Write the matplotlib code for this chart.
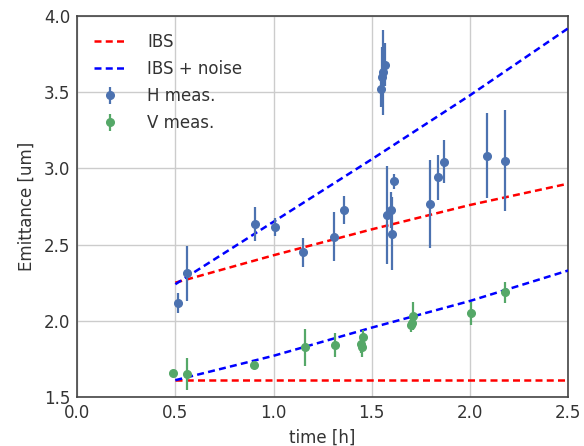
import matplotlib
matplotlib.use("Agg")
import matplotlib.pyplot as plt

# Model curves
model_t = [0.5, 1.0, 1.5, 2.0, 2.5]
ibs_h = [2.25, 2.43, 2.60, 2.76, 2.90]
ibs_noise_h = [2.24, 2.65, 3.06, 3.48, 3.92]
ibs_v = [1.61, 1.61, 1.61, 1.61, 1.61]
ibs_noise_v = [1.61, 1.77, 1.955, 2.13, 2.33]

# Horizontal measurements
h_t = [0.516, 0.562, 0.905, 1.005, 1.152, 1.307, 1.358, 1.548, 1.552, 1.556, 1.568,
       1.580, 1.597, 1.602, 1.611, 1.797, 1.838, 1.870, 2.086, 2.176]
h_emit = [2.115, 2.312, 2.635, 2.617, 2.449, 2.552, 2.727, 3.52, 3.60, 3.63, 3.68,
          2.694, 2.727, 2.570, 2.915, 2.766, 2.941, 3.044, 3.083, 3.051]
h_err = [0.066, 0.18, 0.11, 0.06, 0.094, 0.16, 0.09, 0.12, 0.20, 0.28, 0.14,
         0.32, 0.12, 0.24, 0.05, 0.29, 0.15, 0.14, 0.28, 0.33]

# Vertical measurements
v_t = [0.487, 0.562, 0.903, 1.161, 1.314, 1.444, 1.450, 1.455, 1.699, 1.704, 1.712, 2.005, 2.179]
v_emit = [1.655, 1.651, 1.710, 1.826, 1.841, 1.848, 1.830, 1.892, 1.974, 1.988, 2.031, 2.049, 2.187]
v_err = [0.01, 0.105, 0.01, 0.12, 0.08, 0.06, 0.07, 0.05, 0.05, 0.05, 0.09, 0.077, 0.07]

xticks = [0.0, 0.5, 1.0, 1.5, 2.0, 2.5]
yticks = [1.5, 2.0, 2.5, 3.0, 3.5, 4.0]

fig = plt.figure(figsize=(5.84, 4.46), dpi=100)
ax = fig.add_axes([0.132, 0.110, 0.841, 0.854])

blue_c = "#4c72b0"
green_c = "#55a868"
lw = 1.8
dash = (2.8, 1.7)
ax.plot(model_t, ibs_h, "--", color="red", lw=lw, dashes=dash, label="IBS", zorder=3)
ax.plot(model_t, ibs_noise_h, "--", color="blue", lw=lw, dashes=dash, label="IBS + noise", zorder=3)
ax.plot(model_t, ibs_v, "--", color="red", lw=lw, dashes=dash, zorder=3)
ax.plot(model_t, ibs_noise_v, "--", color="blue", lw=lw, dashes=dash, zorder=3)

ax.errorbar(h_t, h_emit, yerr=h_err, fmt="o", color=blue_c, ms=5.5, elinewidth=1.6,
            capsize=0, label="H meas.", zorder=4)
ax.errorbar(v_t, v_emit, yerr=v_err, fmt="o", color=green_c, ms=5.5, elinewidth=1.6,
            capsize=0, label="V meas.", zorder=4)

ax.set_xlim(0, 2.5)
ax.set_ylim(1.5, 4.0)
ax.set_xticks(xticks)
ax.set_yticks(yticks)
ax.set_xticklabels([f"{t:.1f}" for t in xticks])
ax.set_yticklabels([f"{t:.1f}" for t in yticks])
ax.grid(True, color="#cccccc", lw=1.0)
ax.set_axisbelow(True)
for s in ax.spines.values():
    s.set_color("#444444")
    s.set_linewidth(1.2)
ax.tick_params(length=0, labelsize=12, colors="#333333", pad=5)
ax.set_xlabel("time [h]", fontsize=12, color="#333333", labelpad=5)
ax.set_ylabel("Emittance [um]", fontsize=12, color="#333333", labelpad=6)

leg = ax.legend(loc="upper left", frameon=False, fontsize=12, handlelength=2.0,
                borderaxespad=0.6, labelspacing=0.55, handletextpad=1.2)
for t in leg.get_texts():
    t.set_color("#333333")

fig.savefig("out.png", dpi=100)
